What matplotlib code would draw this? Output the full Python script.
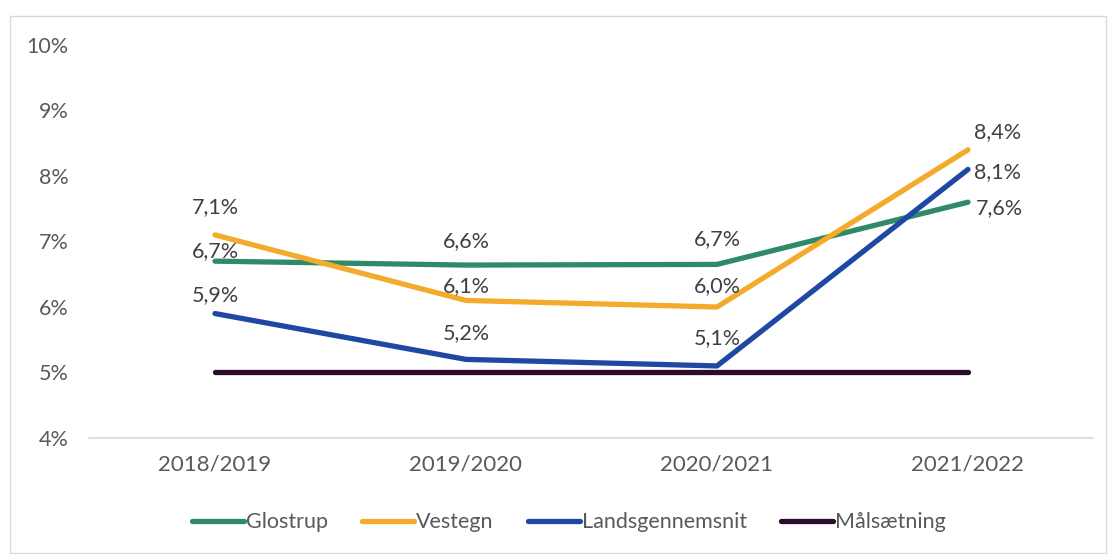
import matplotlib
matplotlib.use("Agg")
import matplotlib.pyplot as plt
from matplotlib.patches import Rectangle

plt.rcParams['font.family'] = ['Lato', 'DejaVu Sans']

years = ["2018/2019", "2019/2020", "2020/2021", "2021/2022"]
glostrup = [6.70, 6.64, 6.65, 7.60]
vestegn = [7.10, 6.10, 6.00, 8.40]
landsgennemsnit = [5.90, 5.20, 5.10, 8.10]
maalsaetning = [5.0, 5.0, 5.0, 5.0]

glostrup_lbl = ["6,7%", "6,6%", "6,7%", "7,6%"]
vestegn_lbl = ["7,1%", "6,1%", "6,0%", "8,4%"]
lands_lbl = ["5,9%", "5,2%", "5,1%", "8,1%"]

# label offsets in points (dx, dy)
glo_off = [(0, 7), (0, 17), (0, 18), (23, -4)]
ves_off = [(0, 20), (0, 10), (0, 15), (21, 13)]
lan_off = [(0, 13), (0, 19), (0, 20), (21, -2)]

GRAY = "#595959"
C_GLO = "#2F8A68"
C_VES = "#F4AA2A"
C_LAN = "#1E48A2"
C_MAL = "#2B0B2E"

fig = plt.figure(figsize=(11.09, 5.54), dpi=100)
fig.patches.append(Rectangle((10 / 1109, 0.002), 1096 / 1109, 1 - 16 / 554 - 0.002,
                             transform=fig.transFigure, fill=False,
                             edgecolor="#D9D9D9", linewidth=1))
ax = fig.add_axes([0.0807, 0.2094, 0.9053, 0.7094])

x = range(len(years))
lw = 3.8
ax.plot(x, glostrup, color=C_GLO, lw=lw, solid_capstyle='round', label="Glostrup", zorder=3)
ax.plot(x, vestegn, color=C_VES, lw=lw, solid_capstyle='round', label="Vestegn", zorder=3)
ax.plot(x, landsgennemsnit, color=C_LAN, lw=lw, solid_capstyle='round', label="Landsgennemsnit", zorder=3)
ax.plot(x, maalsaetning, color=C_MAL, lw=lw, solid_capstyle='round', label="Målsætning", zorder=3)

for vals, lbls, offs in [(glostrup, glostrup_lbl, glo_off),
                         (vestegn, vestegn_lbl, ves_off),
                         (landsgennemsnit, lands_lbl, lan_off)]:
    for i, (v, t, o) in enumerate(zip(vals, lbls, offs)):
        ax.annotate(t, (i, v), xytext=o, textcoords='offset points',
                    ha='center', va='center', fontsize=15.5, color="#404040")

ax.set_xlim(-0.5, 3.5)
ax.set_ylim(4, 10)
ax.set_xticks(list(x))
ax.set_xticklabels(years, fontsize=16, color=GRAY)
ax.set_yticks(range(4, 11))
ax.set_yticklabels([f"{v}%" for v in range(4, 11)], fontsize=15.5, color=GRAY)
ax.tick_params(axis='both', length=0)
ax.tick_params(axis='x', pad=12)
ax.tick_params(axis='y', pad=15)
for s in ['top', 'right', 'left']:
    ax.spines[s].set_visible(False)
ax.spines['bottom'].set_color("#D9D9D9")
ax.spines['bottom'].set_linewidth(1.2)

leg = fig.legend(loc='center', bbox_to_anchor=(0.513, 0.057), ncol=4, frameon=False,
                 fontsize=15.5, handlelength=2.4, handletextpad=0.1, columnspacing=1.6)
for t in leg.get_texts():
    t.set_color(GRAY)

fig.savefig("out.png", dpi=100)
